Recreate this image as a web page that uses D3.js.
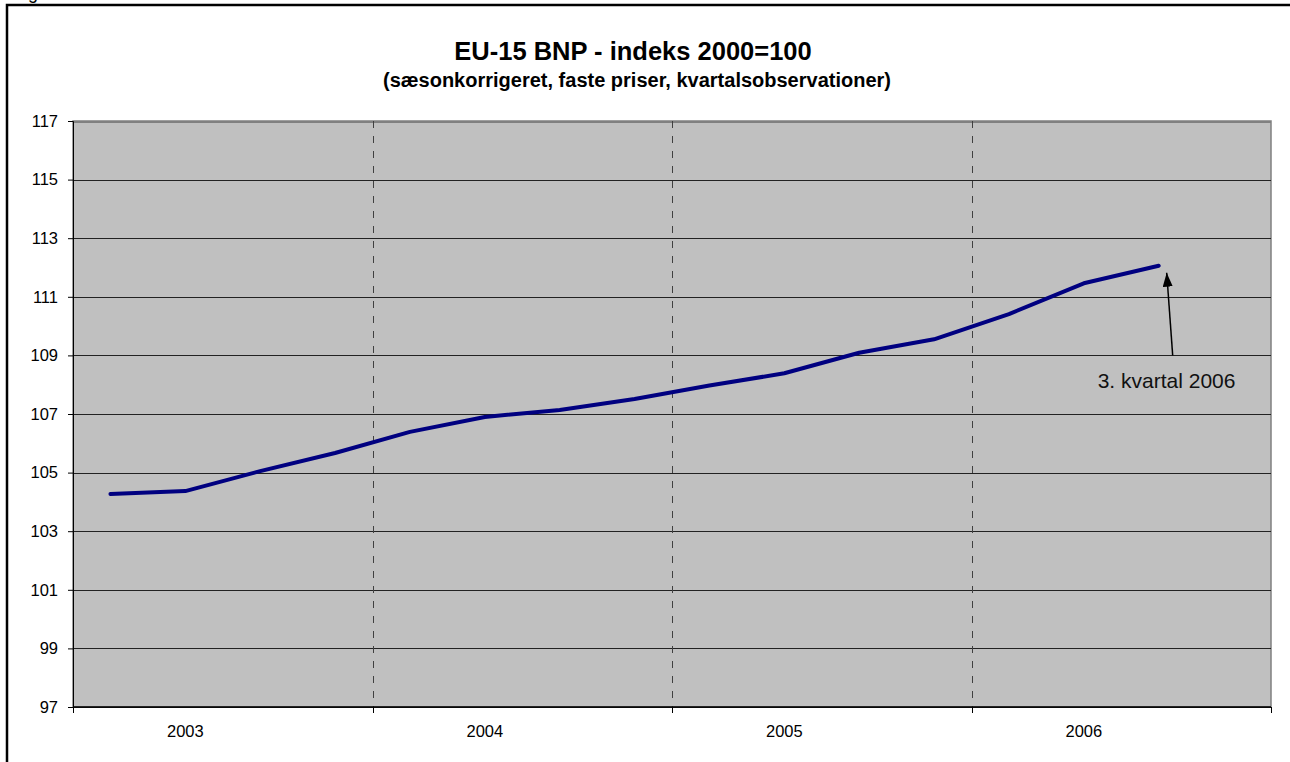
<!DOCTYPE html>
<html>
<head>
<meta charset="utf-8">
<script src="https://cdn.jsdelivr.net/npm/d3@7"></script>
<style>
  body { margin: 0; background: #fff; }
  svg { font-family: Arial, "Liberation Sans", sans-serif; }
</style>
</head>
<body>
<script>
// quarterly observations, 2003 Q1 .. 2006 Q3
var quarters = ["2003K1","2003K2","2003K3","2003K4","2004K1","2004K2","2004K3","2004K4",
                "2005K1","2005K2","2005K3","2005K4","2006K1","2006K2","2006K3","2006K4"];
var gdpIndex = [104.27, 104.37, 105.05, 105.67, 106.39, 106.9, 107.14, 107.51,
                107.97, 108.39, 109.09, 109.55, 110.41, 111.46, 112.06];
var years = ["2003", "2004", "2005", "2006"];
var yTicks = [97, 99, 101, 103, 105, 107, 109, 111, 113, 115, 117];

var W = 1290, H = 762;
var margin = {top: 121, left: 73};
var width = 1271 - margin.left,
    height = 707 - margin.top;

var svg = d3.select("body").append("svg")
    .attr("width", W)
    .attr("height", H);

// outer frame (runs past the right and bottom edge)
svg.append("rect")
    .attr("x", 7).attr("y", 5)
    .attr("width", W + 20).attr("height", H + 20)
    .attr("fill", "none")
    .attr("stroke", "#000")
    .attr("stroke-width", 2.5);

// bit of caption above the frame
svg.append("text")
    .attr("x", 28).attr("y", -1)
    .style("font-size", "18px")
    .text("g");

var g = svg.append("g")
    .attr("transform", "translate(" + margin.left + "," + margin.top + ")");

var x = d3.scaleBand().domain(quarters).range([0, width]).padding(0);
var xYear = d3.scaleBand().domain(years).range([0, width]);
var y = d3.scaleLinear().domain([97, 117]).range([height, 0]);

// plot area
g.append("rect")
    .attr("width", width)
    .attr("height", height)
    .attr("fill", "#c0c0c0")
    .attr("stroke", "#808080")
    .attr("stroke-width", 1.5);

// horizontal gridlines
g.append("g")
    .attr("class", "grid")
    .call(d3.axisLeft(y).tickValues(yTicks).tickSize(-width).tickFormat(""))
    .call(function(s) {
      s.select(".domain").remove();
      s.selectAll("line").attr("stroke", "#222").attr("stroke-width", 1)
        .attr("shape-rendering", "crispEdges");
      s.selectAll(".tick").filter(function(d) { return d === 117; }).select("line")
        .attr("stroke", "#808080").attr("stroke-width", 2);
    });

// dashed year separators
g.append("g")
    .selectAll("line")
    .data(years.slice(1))
    .enter().append("line")
    .attr("x1", function(d) { return Math.round(xYear(d)) + 0.5; })
    .attr("x2", function(d) { return Math.round(xYear(d)) + 0.5; })
    .attr("y1", 0)
    .attr("y2", height)
    .attr("stroke", "#404040")
    .attr("stroke-width", 1)
    .attr("stroke-dasharray", "7,8");

// y axis
g.append("g")
    .call(d3.axisLeft(y).tickValues(yTicks).tickSize(5).tickPadding(10).tickFormat(d3.format("d")))
    .call(function(s) {
      s.select(".domain").attr("stroke", "#000");
      s.selectAll("line").attr("stroke", "#000");
      s.selectAll("text").style("font-size", "16.5px").attr("fill", "#000")
        .attr("font-family", "Arial, 'Liberation Sans', sans-serif");
    });

// x axis: ticks at year boundaries, labels under the second quarter
var xAxisG = g.append("g")
    .attr("transform", "translate(0," + height + ")");
xAxisG.append("line")
    .attr("x1", 0).attr("x2", width)
    .attr("stroke", "#000").attr("stroke-width", 1.5);
xAxisG.selectAll(".yt")
    .data(years.concat(["end"]))
    .enter().append("line")
    .attr("class", "yt")
    .attr("x1", function(d, i) { return Math.round(i * xYear.bandwidth()) + 0.5; })
    .attr("x2", function(d, i) { return Math.round(i * xYear.bandwidth()) + 0.5; })
    .attr("y1", 0).attr("y2", 6)
    .attr("stroke", "#000");
xAxisG.selectAll("text")
    .data(years)
    .enter().append("text")
    .attr("x", function(d) { return x(d + "K2") + x.bandwidth() / 2; })
    .attr("y", 30)
    .attr("text-anchor", "middle")
    .style("font-size", "16.5px")
    .text(function(d) { return d; });

// the series
var line = d3.line()
    .x(function(d, i) { return x(quarters[i]) + x.bandwidth() / 2; })
    .y(function(d) { return y(d); });

g.append("path")
    .datum(gdpIndex)
    .attr("d", line)
    .attr("fill", "none")
    .attr("stroke", "#000080")
    .attr("stroke-width", 4)
    .attr("stroke-linecap", "round")
    .attr("stroke-linejoin", "round");

// annotation for last observation
var last = gdpIndex.length - 1;
var lx = x(quarters[last]) + x.bandwidth() / 2,
    ly = y(gdpIndex[last]);
svg.append("defs").append("marker")
    .attr("id", "arrow")
    .attr("viewBox", "0 0 14 10")
    .attr("refX", 14).attr("refY", 5)
    .attr("markerWidth", 14).attr("markerHeight", 10)
    .attr("markerUnits", "userSpaceOnUse")
    .attr("orient", "auto")
    .append("path")
    .attr("d", "M0,0 L14,5 L0,10 z")
    .attr("fill", "#000");

g.append("line")
    .attr("x1", lx + 14).attr("y1", y(109.0))
    .attr("x2", lx + 8).attr("y2", ly + 7)
    .attr("stroke", "#000")
    .attr("stroke-width", 1.5)
    .attr("marker-end", "url(#arrow)");

g.append("text")
    .attr("x", lx - 61)
    .attr("y", y(109.0) + 33)
    .style("font-size", "21px")
    .attr("fill", "#111")
    .text("3. kvartal 2006");

// titles
svg.append("text")
    .attr("x", 633).attr("y", 60)
    .attr("text-anchor", "middle")
    .style("font-size", "25.5px")
    .style("font-weight", "bold")
    .text("EU-15 BNP - indeks 2000=100");

svg.append("text")
    .attr("x", 637).attr("y", 87)
    .attr("text-anchor", "middle")
    .style("font-size", "20px")
    .style("font-weight", "bold")
    .text("(sæsonkorrigeret, faste priser, kvartalsobservationer)");
</script>
</body>
</html>
